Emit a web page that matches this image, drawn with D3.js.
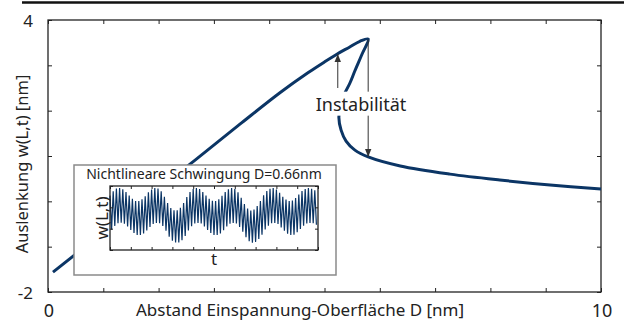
<!DOCTYPE html>
<html>
<head>
<meta charset="utf-8">
<script src="https://cdn.jsdelivr.net/npm/d3@7"></script>
<style>
  body { margin: 0; background: #fff; }
  svg { display: block; font-family: "Noto Sans", sans-serif; }
</style>
</head>
<body>
<div id="content"></div>
<script>
// Main curve: distance D [nm] and deflection w [nm], traced along the S-shaped path
var curveD = [0.09, 1.4, 2.66, 3.5, 4.2, 4.7, 5.0, 5.23, 5.45, 5.64, 5.79,
              5.68, 5.55, 5.46, 5.33, 5.26, 5.30, 5.39, 5.55, 5.79, 6.37, 7.27, 8.17, 9.08, 10.0];
var curveW = [-1.56, -0.3, 0.91, 1.73, 2.4, 2.835, 3.075, 3.25, 3.4, 3.53, 3.58,
              3.25, 2.88, 2.61, 2.28, 1.86, 1.57, 1.33, 1.13, 0.98, 0.78, 0.60, 0.47, 0.36, 0.27];

// Axis ticks
var xTicks = [0, 1, 2, 3, 4, 5, 6, 7, 8, 9, 10];
var xTickLabels = ["0", "", "", "", "", "", "", "", "", "", "10"];
var yTicks = [-2, -1, 0, 1, 2, 3, 4];
var yTickLabels = ["-2", "", "", "", "", "", "4"];

// Instability arrows (D, from w, to w)
var arrowD = [5.24, 5.79];
var arrowFrom = [2.5, 3.57];
var arrowTo = [3.25, 0.98];
var labelD = 5.66, labelW = 2.0;

// Inset: maxima and minima of the fast oscillation, one pair per cycle
var insetTop = [2.55, 2.75, 2.88, 2.9, 2.85, 2.72, 2.55, 2.4, 2.3, 2.3,
                2.38, 2.52, 2.7, 2.84, 2.9, 2.88, 2.75, 2.5, 2.2, 1.97,
                1.86, 1.86, 1.98, 2.2, 2.48, 2.72, 2.86, 2.9, 2.86, 2.72,
                2.55, 2.4, 2.31, 2.3, 2.38, 2.54, 2.72, 2.85, 2.9, 2.86,
                2.7, 2.45, 2.16, 1.94, 1.85, 1.9, 2.06, 2.3, 2.56, 2.76,
                2.87, 2.9, 2.84, 2.68, 2.5, 2.36, 2.3, 2.32, 2.44, 2.6,
                2.76, 2.86, 2.9, 2.87, 2.8];
var insetBottom = [0.95, 1.13, 1.26, 1.28, 1.23, 1.1, 0.94, 0.8, 0.7, 0.7,
                   0.78, 0.92, 1.08, 1.22, 1.27, 1.26, 1.13, 0.9, 0.62, 0.43,
                   0.35, 0.35, 0.46, 0.66, 0.92, 1.12, 1.24, 1.27, 1.24, 1.1,
                   0.94, 0.8, 0.71, 0.7, 0.78, 0.93, 1.1, 1.23, 1.27, 1.24,
                   1.08, 0.86, 0.6, 0.41, 0.34, 0.38, 0.52, 0.72, 0.96, 1.14,
                   1.25, 1.27, 1.22, 1.06, 0.9, 0.76, 0.7, 0.72, 0.83, 0.98,
                   1.14, 1.24, 1.27, 1.25, 1.18];
var insetXTicks = [0, 6.5, 13, 19.5, 26, 32.5, 39, 45.5, 52, 58.5, 65];
var insetYTicks = [0, 1, 2, 3];

var lineColor = "#0b3565";

var svgWidth = 624, svgHeight = 322;
var plot = { left: 48, right: 601, top: 20, bottom: 292 };

var svg = d3.select("#content").append("svg")
    .attr("width", svgWidth)
    .attr("height", svgHeight);

// cut-off rule from the page above
svg.append("line")
    .attr("x1", 22).attr("x2", svgWidth)
    .attr("y1", 2.5).attr("y2", 2.5)
    .attr("stroke", "#111").attr("stroke-width", 2.5);

var xScale = d3.scaleLinear().domain([0, 10]).range([plot.left, plot.right]);
var yScale = d3.scaleLinear().domain([-2, 4]).range([plot.bottom, plot.top]);

// Ticks on all four sides, pointing inward
var tickLen = 4;
function drawFrameTicks(g, xs, ys, xTickVals, yTickVals, len, color) {
    var x0 = xs.range()[0], x1 = xs.range()[1];
    var y0 = ys.range()[0], y1 = ys.range()[1];
    g.append("g").call(d3.axisBottom(xs).tickValues(xTickVals).tickSize(len).tickFormat(""))
        .attr("transform", "translate(0," + y0 + ") scale(1,-1)");
    g.append("g").call(d3.axisTop(xs).tickValues(xTickVals).tickSize(len).tickFormat(""))
        .attr("transform", "translate(0," + y1 + ") scale(1,-1)");
    g.append("g").call(d3.axisLeft(ys).tickValues(yTickVals).tickSize(len).tickFormat(""))
        .attr("transform", "translate(" + x0 + ",0) scale(-1,1)");
    g.append("g").call(d3.axisRight(ys).tickValues(yTickVals).tickSize(len).tickFormat(""))
        .attr("transform", "translate(" + x1 + ",0) scale(-1,1)");
    g.selectAll(".domain").remove();
    g.selectAll(".tick line").attr("stroke", color);
    g.append("rect")
        .attr("x", x0).attr("y", y1)
        .attr("width", x1 - x0).attr("height", y0 - y1)
        .attr("fill", "none").attr("stroke", color).attr("stroke-width", 1.3);
}

var frame = svg.append("g");
drawFrameTicks(frame, xScale, yScale, xTicks, yTicks, tickLen, "#222");

// Tick labels (only ends are labelled)
svg.append("g").selectAll("text")
    .data(xTicks)
    .enter().append("text")
    .attr("x", function (d) { return xScale(d) + 1; })
    .attr("y", 317)
    .attr("text-anchor", "middle")
    .attr("font-size", 18)
    .attr("fill", "#222")
    .text(function (d, i) { return xTickLabels[i]; });

svg.append("g").selectAll("text")
    .data(yTicks)
    .enter().append("text")
    .attr("x", 33)
    .attr("y", function (d) { return yScale(d) + 7; })
    .attr("text-anchor", "end")
    .attr("font-size", 17)
    .attr("fill", "#222")
    .text(function (d, i) { return yTickLabels[i]; });

// Axis titles
svg.append("text")
    .attr("x", 300).attr("y", 316)
    .attr("text-anchor", "middle")
    .attr("font-size", 17)
    .attr("fill", "#222")
    .text("Abstand Einspannung-Oberfläche D [nm]");

svg.append("text")
    .attr("transform", "translate(28," + 164 + ") rotate(-90)")
    .attr("text-anchor", "middle")
    .attr("font-size", 16.5)
    .attr("fill", "#222")
    .text("Auslenkung w(L,t) [nm]");

// Main curve
var points = curveD.map(function (d, i) { return [d, curveW[i]]; });
var curveLine = d3.line()
    .x(function (d) { return xScale(d[0]); })
    .y(function (d) { return yScale(d[1]); })
    .curve(d3.curveCatmullRom.alpha(0.5));

svg.append("path")
    .datum(points)
    .attr("d", curveLine)
    .attr("fill", "none")
    .attr("stroke", lineColor)
    .attr("stroke-width", 3)
    .attr("stroke-linejoin", "round");

// Arrows
var defs = svg.append("defs");
defs.append("marker")
    .attr("id", "arrow")
    .attr("viewBox", "0 0 10 10")
    .attr("refX", 10).attr("refY", 5)
    .attr("markerWidth", 8).attr("markerHeight", 8)
    .attr("markerUnits", "userSpaceOnUse")
    .attr("orient", "auto")
    .append("path")
    .attr("d", "M0,1 L10,5 L0,9 Z")
    .attr("fill", "#333");

svg.append("g").selectAll("line")
    .data(arrowD)
    .enter().append("line")
    .attr("x1", function (d) { return xScale(d); })
    .attr("x2", function (d) { return xScale(d); })
    .attr("y1", function (d, i) { return yScale(arrowFrom[i]); })
    .attr("y2", function (d, i) { return yScale(arrowTo[i]); })
    .attr("stroke", "#333")
    .attr("stroke-width", 1)
    .attr("marker-end", "url(#arrow)");

// Label with white backing that hides the curve behind it
var label = svg.append("g");
var labelText = label.append("text")
    .attr("x", xScale(labelD)).attr("y", yScale(labelW))
    .attr("text-anchor", "middle")
    .attr("font-size", 18)
    .attr("fill", "#222")
    .text("Instabilität");
var bb = labelText.node().getBBox();
label.insert("rect", "text")
    .attr("x", bb.x - 2).attr("y", bb.y)
    .attr("width", bb.width + 4).attr("height", bb.height)
    .attr("fill", "#fff");

// Inset
var inset = svg.append("g");
inset.append("rect")
    .attr("x", 74).attr("y", 165)
    .attr("width", 262).attr("height", 110)
    .attr("fill", "#fff")
    .attr("stroke", "#8a8a8a")
    .attr("stroke-width", 1.5);

var insetX = d3.scaleLinear().domain([0, 65]).range([110, 318]);
var insetY = d3.scaleLinear().domain([0, 3]).range([250, 186]);

// zig-zag through the per-cycle maxima and minima
var insetPoints = [];
for (var k = 0; k < insetTop.length; k++) {
    insetPoints.push([k, insetTop[k]]);
    insetPoints.push([k + 0.5, insetBottom[k]]);
}
inset.append("path")
    .datum(insetPoints)
    .attr("d", d3.line()
        .x(function (d) { return insetX(d[0]); })
        .y(function (d) { return insetY(d[1]); }))
    .attr("fill", "none")
    .attr("stroke", lineColor)
    .attr("stroke-width", 1.2);

drawFrameTicks(inset.append("g"), insetX, insetY, insetXTicks, insetYTicks, 3, "#222");

inset.append("text")
    .attr("x", 204).attr("y", 179)
    .attr("text-anchor", "middle")
    .attr("font-size", 14)
    .attr("fill", "#222")
    .text("Nichtlineare Schwingung D=0.66nm");

inset.append("text")
    .attr("transform", "translate(108,218) rotate(-90)")
    .attr("text-anchor", "middle")
    .attr("font-size", 17)
    .attr("fill", "#222")
    .text("w(L,t)");

inset.append("text")
    .attr("x", 214).attr("y", 265)
    .attr("text-anchor", "middle")
    .attr("font-size", 17)
    .attr("fill", "#222")
    .text("t");
</script>
</body>
</html>
